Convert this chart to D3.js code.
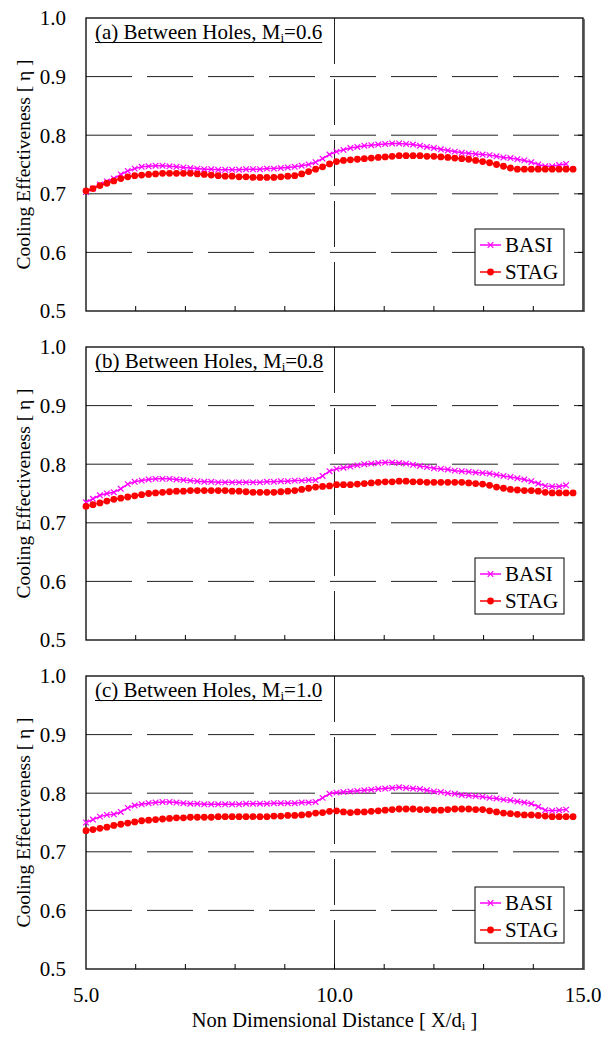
<!DOCTYPE html>
<html>
<head>
<meta charset="utf-8">
<script src="https://cdn.jsdelivr.net/npm/d3@7"></script>
<style>
  body { margin: 0; background: #fff; }
  svg { display: block; font-family: "Liberation Serif", "Times New Roman", serif; }
</style>
</head>
<body>
<div id="chart"></div>
<script>
// x positions of the measured points (X/d)
var xs = [5.00,5.14,5.28,5.42,5.56,5.70,5.84,5.98,6.12,6.26,6.40,6.54,6.68,6.82,6.96,7.10,7.24,7.38,7.52,7.66,
  7.80,7.94,8.08,8.22,8.36,8.50,8.64,8.78,8.92,9.06,9.20,9.34,9.48,9.62,9.76,9.90,10.04,10.18,10.32,10.46,
  10.60,10.74,10.88,11.02,11.16,11.30,11.44,11.58,11.72,11.86,12.00,12.14,12.28,12.42,12.56,12.70,12.84,12.98,13.12,13.26,
  13.40,13.54,13.68,13.82,13.96,14.10,14.24,14.38,14.52,14.66,14.80];

// (a) M=0.6
var basiA = [.703,.709,.716,.721,.726,.733,.739,.743,.746,.747,.748,.748,.747,.746,.745,.744,.743,.742,.742,.741,
  .741,.741,.741,.742,.742,.742,.743,.743,.744,.745,.746,.748,.750,.754,.760,.767,.772,.775,.778,.780,
  .782,.783,.784,.785,.786,.786,.785,.784,.782,.780,.778,.776,.774,.772,.770,.769,.768,.767,.766,.764,
  .762,.761,.759,.757,.754,.750,.747,.747,.749,.751];
var stagA = [.705,.709,.714,.718,.722,.726,.729,.731,.732,.733,.734,.735,.735,.735,.735,.735,.734,.733,.732,.731,
  .730,.730,.729,.729,.728,.728,.728,.728,.729,.730,.731,.734,.738,.742,.746,.751,.755,.757,.758,.759,
  .760,.761,.762,.763,.764,.765,.765,.765,.765,.764,.764,.763,.762,.761,.760,.759,.757,.755,.753,.750,
  .747,.744,.742,.742,.742,.742,.742,.742,.742,.742,.742];

// (b) M=0.8
var basiB = [.735,.741,.747,.750,.752,.758,.766,.770,.772,.774,.775,.775,.775,.774,.773,.772,.771,.770,.770,.769,
  .769,.769,.769,.769,.769,.769,.770,.770,.771,.771,.772,.772,.773,.773,.780,.788,.792,.794,.796,.798,
  .800,.801,.802,.803,.803,.802,.801,.799,.797,.795,.793,.792,.791,.789,.788,.787,.786,.785,.784,.782,
  .780,.778,.776,.774,.771,.767,.763,.762,.762,.764];
var stagB = [.728,.731,.734,.737,.740,.742,.744,.746,.748,.750,.751,.752,.753,.754,.754,.755,.755,.755,.755,.755,
  .755,.754,.754,.753,.752,.752,.752,.752,.753,.754,.755,.757,.759,.761,.762,.763,.765,.765,.765,.766,
  .767,.768,.769,.770,.770,.771,.771,.770,.770,.769,.769,.769,.769,.769,.769,.768,.767,.766,.764,.761,
  .759,.757,.756,.755,.755,.754,.752,.751,.751,.751,.751];

// (c) M=1.0
var basiC = [.750,.755,.760,.763,.764,.768,.775,.779,.781,.783,.784,.785,.785,.784,.783,.782,.782,.781,.781,.781,
  .781,.781,.781,.782,.782,.782,.782,.783,.783,.783,.783,.784,.784,.785,.792,.799,.801,.802,.803,.804,
  .805,.806,.807,.808,.809,.810,.809,.808,.807,.805,.803,.802,.800,.799,.797,.796,.795,.794,.792,.791,
  .789,.788,.786,.784,.782,.777,.771,.770,.771,.772];
var stagC = [.736,.738,.740,.742,.745,.747,.749,.751,.753,.754,.755,.756,.757,.758,.758,.759,.759,.759,.759,.760,
  .760,.760,.760,.760,.760,.760,.760,.761,.761,.762,.762,.763,.764,.766,.767,.769,.770,.768,.767,.768,
  .768,.769,.770,.771,.772,.773,.773,.773,.772,.772,.771,.771,.772,.773,.773,.773,.772,.772,.770,.768,
  .766,.765,.764,.763,.763,.762,.761,.760,.760,.760,.760];

var panelLetters = ['(a)', '(b)', '(c)'];
var massRatios = ['0.6', '0.8', '1.0'];
var basiSeries = [basiA, basiB, basiC];
var stagSeries = [stagA, stagB, stagC];
var yTicks = [0.5, 0.6, 0.7, 0.8, 0.9, 1.0];
var xTicks = [5, 10, 15];
var seriesNames = ['BASI', 'STAG'];

var W = 610, H = 1037;
var left = 86, plotW = 497, plotH = 293;
var tops = [18, 347, 676];

var svg = d3.select('#chart').append('svg')
    .attr('width', W)
    .attr('height', H);

var x = d3.scaleLinear().domain([5, 15]).range([0, plotW]);
var y = d3.scaleLinear().domain([0.5, 1.0]).range([plotH, 0]);

var line = d3.line()
    .x((d) => x(d[0]))
    .y((d) => y(d[1]));

function drawX(g, px, py, s) {
  g.append('path')
      .attr('d', 'M' + (px - s) + ',' + (py - s) + 'L' + (px + s) + ',' + (py + s) +
                 'M' + (px - s) + ',' + (py + s) + 'L' + (px + s) + ',' + (py - s))
      .attr('stroke', '#ff00ff')
      .attr('stroke-width', 1.2);
}

tops.forEach((top, i) => {
  var g = svg.append('g').attr('transform', 'translate(' + left + ',' + top + ')');

  // gridlines
  g.selectAll('.grid-y')
    .data([0.6, 0.7, 0.8, 0.9])
    .enter().append('line')
      .attr('x1', 0).attr('x2', plotW)
      .attr('y1', (d) => y(d)).attr('y2', (d) => y(d))
      .attr('stroke', '#222')
      .attr('stroke-width', 1)
      .attr('stroke-dasharray', '46,15');
  g.append('line')
      .attr('x1', x(10)).attr('x2', x(10))
      .attr('y1', 0).attr('y2', plotH)
      .attr('stroke', '#222')
      .attr('stroke-width', 1)
      .attr('stroke-dasharray', '46,15');

  // minor ticks on bottom
  g.selectAll('.tick-x')
    .data(d3.range(6, 15))
    .enter().append('line')
      .attr('x1', (d) => x(d)).attr('x2', (d) => x(d))
      .attr('y1', plotH).attr('y2', plotH - 5)
      .attr('stroke', '#000');
  // ticks on right
  g.selectAll('.tick-r')
    .data([0.6, 0.7, 0.8, 0.9])
    .enter().append('line')
      .attr('x1', plotW).attr('x2', plotW - 5)
      .attr('y1', (d) => y(d)).attr('y2', (d) => y(d))
      .attr('stroke', '#000');

  // frame
  g.append('rect')
      .attr('width', plotW).attr('height', plotH)
      .attr('fill', 'none')
      .attr('stroke', '#000')
      .attr('stroke-width', 1.3);
  g.append('line')
      .attr('x1', plotW + 1).attr('x2', plotW + 1)
      .attr('y1', 1).attr('y2', plotH + 1)
      .attr('stroke', '#444')
      .attr('stroke-width', 1.5);

  // y tick labels
  g.selectAll('.ylab')
    .data(yTicks)
    .enter().append('text')
      .attr('x', -20)
      .attr('y', (d) => y(d))
      .attr('dy', '0.35em')
      .attr('text-anchor', 'end')
      .attr('font-size', 21)
      .text((d) => d.toFixed(1));

  // y axis title
  g.append('text')
      .attr('transform', 'translate(-56,' + (plotH / 2) + ') rotate(-90)')
      .attr('text-anchor', 'middle')
      .attr('font-size', 19.5)
      .text('Cooling Effectiveness [ η ]');

  // series
  var basi = basiSeries[i].map((v, k) => [xs[k], v]);
  var stag = stagSeries[i].map((v, k) => [xs[k], v]);

  g.append('path')
      .datum(basi)
      .attr('fill', 'none')
      .attr('stroke', '#ff00ff')
      .attr('stroke-width', 1.5)
      .attr('d', line);
  basi.forEach((d) => drawX(g, x(d[0]), y(d[1]), 2.8));

  g.append('path')
      .datum(stag)
      .attr('fill', 'none')
      .attr('stroke', '#ff0000')
      .attr('stroke-width', 1.5)
      .attr('d', line);
  g.selectAll('.dot')
    .data(stag)
    .enter().append('circle')
      .attr('cx', (d) => x(d[0]))
      .attr('cy', (d) => y(d[1]))
      .attr('r', 3.4)
      .attr('fill', '#ff0000');

  // panel title
  var t = g.append('text')
      .attr('x', 9)
      .attr('y', 21)
      .attr('font-size', 21);
  t.append('tspan').text(panelLetters[i] + ' Between Holes, M');
  t.append('tspan').attr('font-size', 13).attr('dy', 3).text('i');
  t.append('tspan').attr('dy', -3).text('=' + massRatios[i]);
  var bb = t.node().getBBox();
  g.append('line')
      .attr('x1', bb.x).attr('x2', bb.x + bb.width)
      .attr('y1', 24.5).attr('y2', 24.5)
      .attr('stroke', '#000')
      .attr('stroke-width', 1.2);

  // legend
  var lg = g.append('g').attr('transform', 'translate(' + (475 - left) + ',' + (229 - 18) + ')');
  lg.append('rect')
      .attr('width', 89).attr('height', 56)
      .attr('fill', '#fff')
      .attr('stroke', '#000')
      .attr('stroke-width', 1);
  seriesNames.forEach((name, k) => {
    var ly = 16 + k * 27;
    lg.append('line')
        .attr('x1', 5).attr('x2', 26)
        .attr('y1', ly).attr('y2', ly)
        .attr('stroke', k === 0 ? '#ff00ff' : '#ff0000')
        .attr('stroke-width', 1.5);
    if (k === 0) drawX(lg, 15.5, ly, 2.8);
    else lg.append('circle').attr('cx', 15.5).attr('cy', ly).attr('r', 3.4).attr('fill', '#ff0000');
    lg.append('text')
        .attr('x', 30)
        .attr('y', ly)
        .attr('dy', '0.35em')
        .attr('font-size', 21)
        .text(name);
  });

  // x labels on bottom panel only
  if (i === tops.length - 1) {
    g.selectAll('.xlab')
      .data(xTicks)
      .enter().append('text')
        .attr('x', (d) => x(d))
        .attr('y', plotH + 33)
        .attr('text-anchor', 'middle')
        .attr('font-size', 21)
        .text((d) => d.toFixed(1));
    var xt = g.append('text')
        .attr('x', plotW / 2)
        .attr('y', plotH + 58)
        .attr('text-anchor', 'middle')
        .attr('font-size', 20.5);
    xt.append('tspan').text('Non Dimensional Distance [ X/d');
    xt.append('tspan').attr('font-size', 13).attr('dy', 3).text('i');
    xt.append('tspan').attr('dy', -3).text(' ]');
  }
});
</script>
</body>
</html>
